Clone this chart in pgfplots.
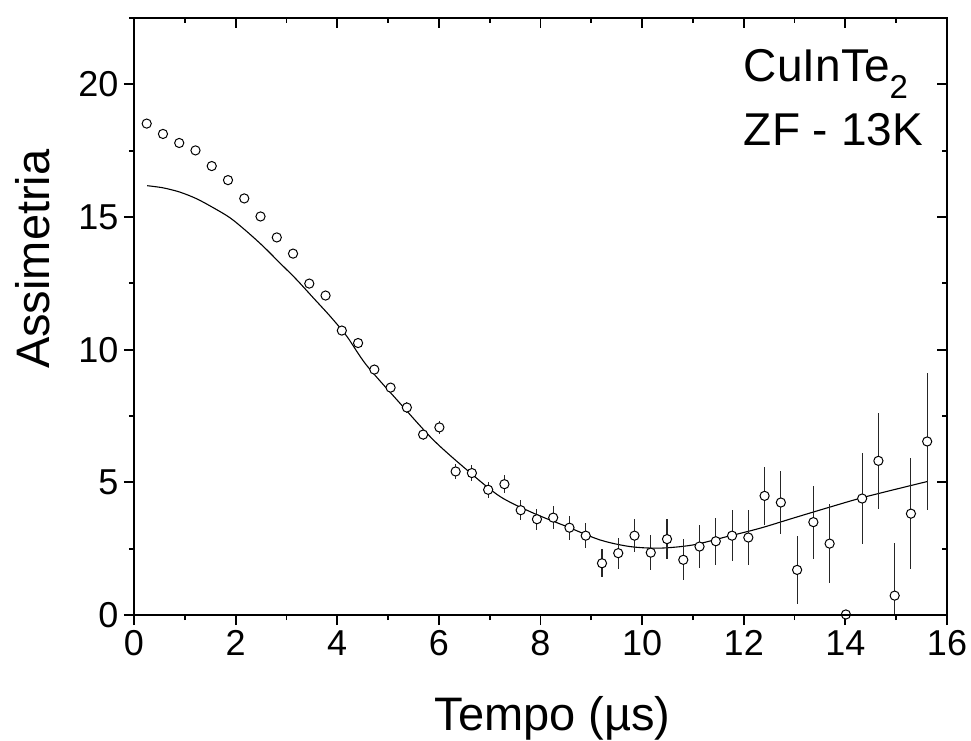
\documentclass[border=0pt]{standalone}
\usepackage{fontspec}
\setmainfont{Liberation Sans}
\usepackage{pgfplots}
\pgfplotsset{compat=1.18}
\begin{document}
\begin{tikzpicture}
\useasboundingbox (0,0) rectangle (971pt,740pt);
\pgfplotsset{common/.style={
  width=813pt, height=597pt, scale only axis,
  xmin=0, xmax=16, ymin=0, ymax=22.5,
  xtick={0,2,...,16}, minor xtick={1,3,...,15},
  ytick={0,5,...,20}, minor ytick={2.5,7.5,...,22.5},
  axis line style={line width=1.8pt},
  major tick length=10pt, minor tick length=5pt,
  every tick/.style={black, line width=1.8pt},
  at={(134pt,125pt)}, anchor=south west,
}}
\begin{axis}[common, xtick pos=left, ytick pos=left, tick align=outside,
  tick label style={font=\fontsize{36}{40}\selectfont},
  /pgf/number format/assume math mode=true,
  xticklabel style={yshift=-2pt},
  yticklabel style={xshift=-2pt},
  xlabel={Tempo (µs)}, ylabel={Assimetria},
  xlabel style={font=\fontsize{47}{52}\selectfont, at={([yshift=-115pt]axis description cs:0.515,0)}, anchor=base},
  ylabel style={font=\fontsize{47}{52}\selectfont, at={([xshift=-84pt]axis description cs:0,0.596)}, anchor=base, rotate=0},
]
\addplot[black, line width=1.1pt, smooth] coordinates {
(0.26,16.18)(0.57,16.10)(0.90,15.94)(1.23,15.69)(1.56,15.35)(1.89,14.97)(2.21,14.47)(2.54,13.90)(2.87,13.27)(3.20,12.64)(3.53,11.95)(3.86,11.26)(4.19,10.50)(4.57,9.43)(5.23,7.99)(5.89,6.60)(6.55,5.47)(7.20,4.47)(7.86,3.84)(8.52,3.33)(9.17,2.83)(9.76,2.58)(10.35,2.52)(11.0,2.64)(11.66,2.95)(12.32,3.27)(12.97,3.65)(13.63,4.03)(14.29,4.40)(14.95,4.72)(15.61,5.03)
};
\addplot[only marks, mark=*, mark size=4.6pt, mark options={fill=white, draw=black, line width=1pt},
  error bars/.cd, y dir=both, y explicit, error mark=none,
  error bar style={line width=1.1pt, black!85}]
  table[x=x, y=y, y error=e] {
x y e
0.25 18.52 0.07
0.57 18.13 0.08
0.89 17.79 0.08
1.21 17.51 0.09
1.53 16.92 0.09
1.85 16.39 0.10
2.17 15.70 0.11
2.49 15.02 0.12
2.81 14.23 0.13
3.13 13.62 0.13
3.45 12.49 0.14
3.77 12.04 0.15
4.09 10.72 0.16
4.41 10.25 0.17
4.73 9.25 0.18
5.05 8.57 0.19
5.37 7.82 0.20
5.69 6.80 0.22
6.01 7.07 0.23
6.33 5.41 0.28
6.65 5.35 0.31
6.97 4.72 0.31
7.29 4.93 0.35
7.61 3.95 0.38
7.93 3.61 0.39
8.25 3.67 0.44
8.57 3.29 0.46
8.89 2.99 0.48
9.21 1.95 0.53
9.53 2.33 0.58
9.85 2.99 0.62
10.17 2.35 0.67
10.49 2.86 0.74
10.81 2.08 0.77
11.13 2.58 0.82
11.45 2.78 0.89
11.77 2.99 0.96
12.09 2.92 1.04
12.41 4.49 1.09
12.73 4.24 1.19
13.05 1.70 1.29
13.37 3.50 1.38
13.69 2.69 1.48
14.01 0.02 0
14.33 4.39 1.70
14.65 5.81 1.81
14.97 0.73 1.97
15.29 3.82 2.08
15.61 6.54 2.58
};
\node[anchor=base west, font=\fontsize{46}{50}\selectfont, inner sep=0pt] at (axis cs:12.0,20.09) {CuInTe\raisebox{-17pt}{\fontsize{33}{36}\selectfont 2}};
\node[anchor=base west, font=\fontsize{46}{50}\selectfont, inner sep=0pt] at (axis cs:12.0,17.68) {ZF - 13K};
\end{axis}
\begin{axis}[common, xtick pos=right, ytick pos=right, tick align=inside,
  xticklabels={}, yticklabels={}]
\end{axis}
\end{tikzpicture}
\end{document}
